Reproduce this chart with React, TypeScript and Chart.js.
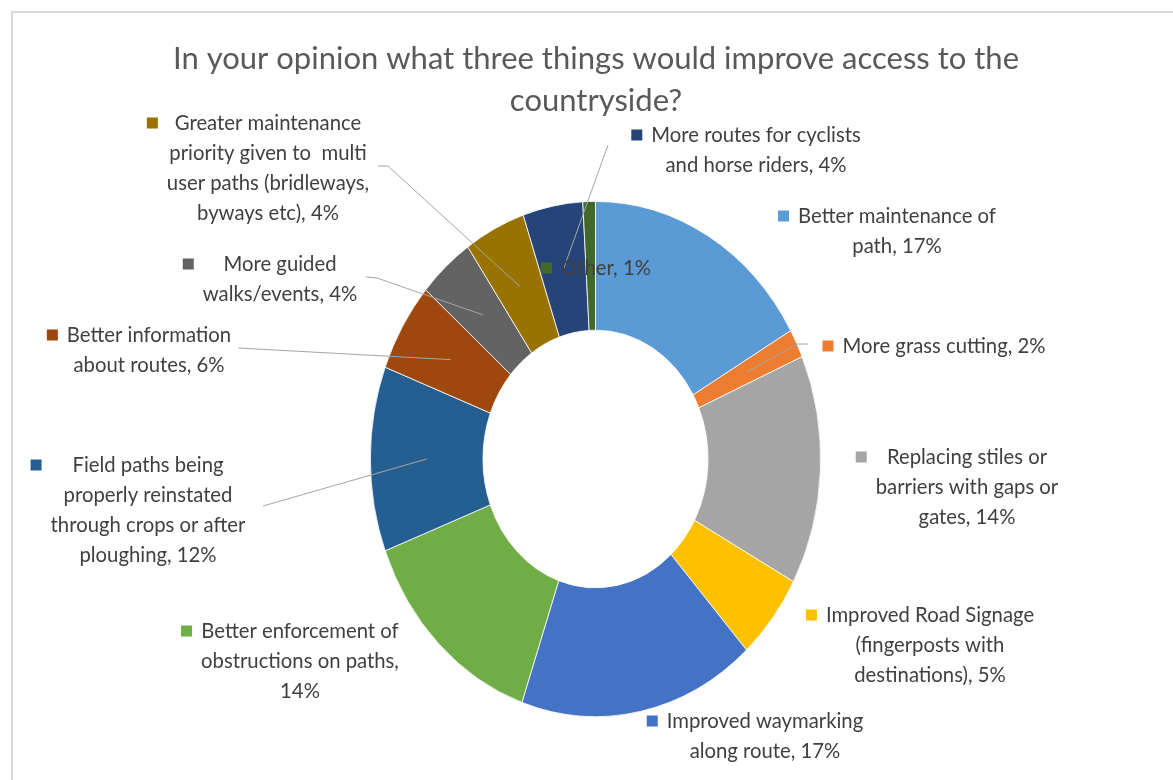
import { useEffect, useRef } from "react";
import { Chart, registerables } from "chart.js";

Chart.register(...registerables);

// ---- data ----
const categories = [
  "Better maintenance of path",
  "More grass cutting",
  "Replacing stiles or barriers with gaps or gates",
  "Improved Road Signage (fingerposts with destinations)",
  "Improved waymarking along route",
  "Better enforcement of obstructions on paths",
  "Field paths being properly reinstated through crops or after ploughing",
  "Better information about routes",
  "More guided walks/events",
  "Greater maintenance priority given to  multi user paths (bridleways, byways etc)",
  "More routes for cyclists and horse riders",
  "Other",
];

const shares = [16.7, 1.8, 14.4, 5.4, 17.0, 13.9, 11.6, 5.6, 4.0, 4.4, 4.3, 0.9];

const labelLines = [
  ["Better maintenance of", "path, 17%"],
  ["More grass cutting, 2%"],
  ["Replacing stiles or", "barriers with gaps or", "gates, 14%"],
  ["Improved Road Signage", "(fingerposts with", "destinations), 5%"],
  ["Improved waymarking", "along route, 17%"],
  ["Better enforcement of", "obstructions on paths,", "14%"],
  ["Field paths being", "properly reinstated", "through crops or after", "ploughing, 12%"],
  ["Better information", "about routes, 6%"],
  ["More guided", "walks/events, 4%"],
  ["Greater maintenance", "priority given to  multi", "user paths (bridleways,", "byways etc), 4%"],
  ["More routes for cyclists", "and horse riders, 4%"],
  ["Other, 1%"],
];

const colors = [
  "#5B9BD5", "#ED7D31", "#A5A5A5", "#FFC000", "#4472C4", "#70AD47",
  "#255E91", "#9E480E", "#636363", "#997300", "#264478", "#43682B",
];

const titleLines = ["In your opinion what three things would improve access to the", "countryside?"];

// ---- layout (positions of label blocks and leader lines) ----
const labelPos: { x: number; y: number }[] = [
  { x: 897, y: 216 },
  { x: 944, y: 346 },
  { x: 967, y: 457 },
  { x: 930, y: 615 },
  { x: 765, y: 721 },
  { x: 300, y: 631 },
  { x: 148, y: 465 },
  { x: 149, y: 335 },
  { x: 280, y: 264 },
  { x: 268, y: 123 },
  { x: 756, y: 135 },
  { x: 606, y: 268 },
];

const leaders: ({ from: [number, number]; elbow?: [number, number] } | null)[] = [
  null,
  { from: [808, 344], elbow: [797, 344] },
  null,
  null,
  null,
  null,
  { from: [263, 506] },
  { from: [238, 348] },
  { from: [366, 277], elbow: [377, 278] },
  { from: [378, 166], elbow: [388, 166] },
  { from: [608, 145] },
  null,
];

const W = 1173;
const H = 780;
const RX = 225.5;
const RY = 258;
const YSCALE = RY / RX;
const FONT = "Lato, 'Open Sans', sans-serif";
const LABEL_SIZE = 20.3;
const TITLE_SIZE = 31;
const LINE_H = 30.3;

const stretchPlugin = {
  id: "stretch",
  beforeDatasetsDraw(chart: any) {
    const arc = chart.getDatasetMeta(0).data[0];
    if (!arc) return;
    const { x, y } = arc.getProps(["x", "y"], true);
    const ctx = chart.ctx;
    ctx.save();
    ctx.translate(x, y);
    ctx.scale(1, YSCALE);
    ctx.translate(-x, -y);
  },
  afterDatasetsDraw(chart: any) {
    chart.ctx.restore();
  },
};

const framePlugin = {
  id: "frame",
  beforeDraw(chart: any) {
    const ctx = chart.ctx;
    ctx.save();
    ctx.fillStyle = "#ffffff";
    ctx.fillRect(0, 0, W, H);
    ctx.strokeStyle = "#d9d9d9";
    ctx.lineWidth = 2;
    ctx.strokeRect(12, 12, W + 40, H + 40);
    ctx.restore();
  },
};

const labelPlugin = {
  id: "labels",
  afterDraw(chart: any) {
    const ctx = chart.ctx;
    const meta = chart.getDatasetMeta(0);
    ctx.save();
    // title
    ctx.fillStyle = "#595959";
    ctx.font = `${TITLE_SIZE}px ${FONT}`;
    ctx.textAlign = "center";
    ctx.textBaseline = "middle";
    titleLines.forEach((t, i) => ctx.fillText(t, 596, 59 + i * 42));

    // leader lines
    ctx.strokeStyle = "#a6a6a6";
    ctx.lineWidth = 1;
    meta.data.forEach((el: any, i: number) => {
      const ld = leaders[i];
      if (!ld) return;
      const p = el.getProps(["x", "y", "startAngle", "endAngle", "innerRadius", "outerRadius"], true);
      const mid = (p.startAngle + p.endAngle) / 2;
      const r = (p.innerRadius + p.outerRadius) / 2;
      const tx = p.x + Math.cos(mid) * r;
      const ty = p.y + Math.sin(mid) * r * YSCALE;
      ctx.beginPath();
      ctx.moveTo(ld.from[0], ld.from[1]);
      if (ld.elbow) ctx.lineTo(ld.elbow[0], ld.elbow[1]);
      ctx.lineTo(tx, ty);
      ctx.stroke();
    });

    // labels
    ctx.font = `${LABEL_SIZE}px ${FONT}`;
    labelLines.forEach((lines, i) => {
      const pos = labelPos[i];
      const maxW = Math.max(...lines.map((l) => ctx.measureText(l).width));
      const left = pos.x - maxW / 2;
      ctx.fillStyle = colors[i];
      ctx.fillRect(left - 9 - 11, pos.y - 5.5, 11, 11);
      ctx.fillStyle = "#404040";
      lines.forEach((l, k) => ctx.fillText(l, pos.x, pos.y + k * LINE_H));
    });
    ctx.restore();
  },
};

export default function App() {
  const ref = useRef<HTMLCanvasElement | null>(null);
  useEffect(() => {
    if (!ref.current) return;
    const chart = new Chart(ref.current, {
      type: "doughnut",
      data: {
        labels: categories,
        datasets: [
          {
            data: shares,
            backgroundColor: colors,
            borderColor: "#ffffff",
            borderWidth: 0.75,
            clip: false as any,
          } as any,
        ],
      },
      options: {
        responsive: false,
        animation: false,
        devicePixelRatio: 1,
        cutout: "50%",
        events: [],
        layout: { padding: { left: 370, right: W - 821, top: 459 - RX, bottom: H - (459 + RX) } },
        plugins: {
          legend: { display: false },
          tooltip: { enabled: false },
          title: { display: false },
        },
      },
      plugins: [framePlugin, stretchPlugin, labelPlugin],
    });
    return () => chart.destroy();
  }, []);
  return (
    <div style={{ position: "absolute", left: 0, top: 0, width: W, height: H, background: "#fff" }}>
      <canvas ref={ref} width={W} height={H} style={{ display: "block" }} />
    </div>
  );
}
